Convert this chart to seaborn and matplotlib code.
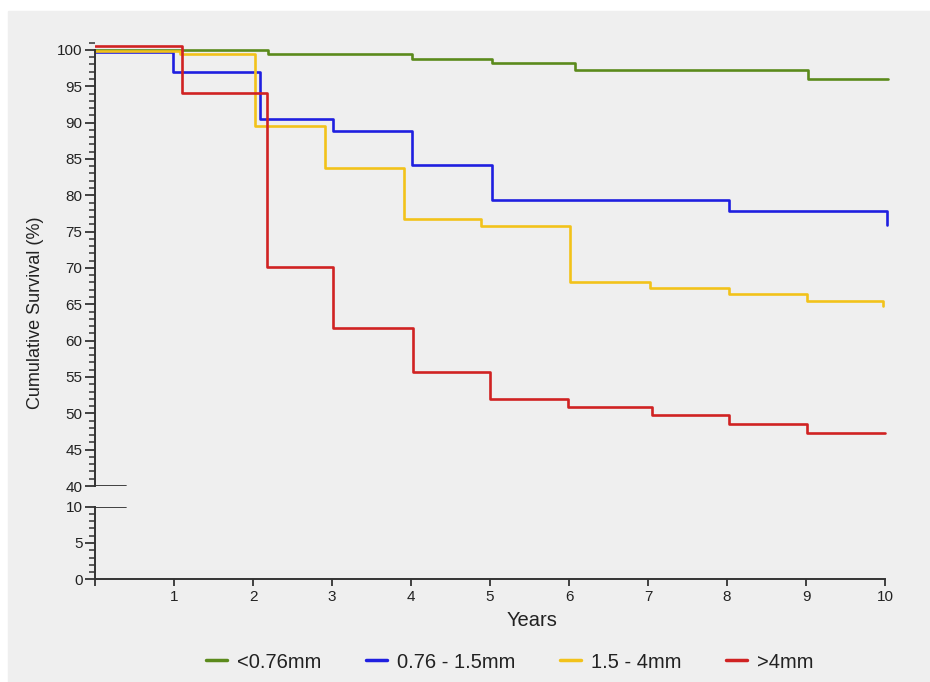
import matplotlib
matplotlib.use('Agg')
import matplotlib.pyplot as plt
from matplotlib.patches import Rectangle
from matplotlib.ticker import MultipleLocator
import pandas as pd
import seaborn as sns

# Kaplan-Meier style survival steps (time in years, survival in %)
green_t = [0, 2.19, 4.01, 5.02, 6.08, 9.03, 10.04]
green_s = [100.0, 99.5, 98.8, 98.2, 97.25, 96.0, 96.0]

blue_t = [0, 0.99, 2.09, 3.01, 4.01, 5.02, 8.03, 10.03]
blue_s = [99.7, 97.0, 90.5, 88.9, 84.2, 79.3, 77.9, 75.9]

yellow_t = [0, 1.08, 2.02, 2.91, 3.91, 4.89, 6.01, 7.03, 8.03, 9.01, 9.97]
yellow_s = [99.9, 99.4, 89.5, 83.7, 76.8, 75.8, 68.0, 67.2, 66.4, 65.5, 64.7]

red_t = [0, 1.10, 2.18, 3.01, 4.03, 5.0, 5.99, 7.05, 8.03, 9.01, 10.0]
red_s = [100.6, 94.1, 70.1, 61.7, 55.7, 52.0, 50.85, 49.7, 48.5, 47.3, 47.3]

groups = ['<0.76mm', '0.76 - 1.5mm', '1.5 - 4mm', '>4mm']
colors = {'<0.76mm': '#5b8a1c', '0.76 - 1.5mm': '#1f1fe0',
          '1.5 - 4mm': '#f2c21a', '>4mm': '#d02222'}

rows = []
for g, ts, ss in zip(groups, [green_t, blue_t, yellow_t, red_t],
                     [green_s, blue_s, yellow_s, red_s]):
    for t, s in zip(ts, ss):
        rows.append({'Years': t, 'Survival': s, 'group': g})
df = pd.DataFrame(rows)

sns.set_theme(style='ticks')
plt.rcParams['font.family'] = ['Liberation Sans', 'DejaVu Sans']
axis_col = '#333333'

W, H = 930, 682
fig = plt.figure(figsize=(W / 100, H / 100), dpi=100)
fig.patch.set_facecolor('white')
fig.patches.append(Rectangle((8 / W, 0), 1, (H - 11) / H, transform=fig.transFigure,
                             color='#efefef', zorder=-10))

left = 95 / W
width = 798 / W
ax_top = fig.add_axes([left, (H - 486) / H, width, 447 / H])
ax_bot = fig.add_axes([left, (H - 579.3) / H, width, 72.6 / H])

sns.lineplot(data=df, x='Years', y='Survival', hue='group', hue_order=groups,
             palette=colors, drawstyle='steps-post', estimator=None, sort=False,
             linewidth=1.9, ax=ax_top)

for ax in (ax_top, ax_bot):
    ax.set_facecolor('none')
    ax.set_xlim(0, 10.1)
    ax.spines['top'].set_visible(False)
    ax.spines['right'].set_visible(False)
    for s in ('left', 'bottom'):
        ax.spines[s].set_color(axis_col)
        ax.spines[s].set_linewidth(1.4)
    ax.yaxis.set_minor_locator(MultipleLocator(1))
    ax.tick_params(axis='y', which='major', length=7, width=1.3, color=axis_col,
                   labelsize=11, pad=2, labelcolor='#222222')
    ax.tick_params(axis='y', which='minor', length=4, width=1.1, color=axis_col)
    ax.set_xlabel('')
    ax.set_ylabel('')

ax_top.set_ylim(40, 101.5)
ax_top.set_yticks(range(40, 101, 5))
ax_top.spines['left'].set_bounds(40, 100)
ax_top.spines['bottom'].set_visible(False)
ax_top.tick_params(axis='x', bottom=False, labelbottom=False)
ax_top.axhline(40, xmin=0, xmax=31 / 798, color=axis_col, lw=1.3)
ax_top.get_legend().remove()

ax_bot.set_ylim(0, 10)
ax_bot.set_yticks([0, 5, 10])
ax_bot.spines['left'].set_bounds(0, 10)
ax_bot.spines['bottom'].set_bounds(0, 10)
ax_bot.set_xticks(range(0, 11))
ax_bot.set_xticklabels([''] + [str(i) for i in range(1, 11)])
ax_bot.tick_params(axis='x', length=5, width=1.3, color=axis_col, labelsize=11,
                   pad=3, labelcolor='#222222')
ax_bot.axhline(10, xmin=0, xmax=31 / 798, color=axis_col, lw=1.3)

fig.text(35 / W, 1 - 313 / H, 'Cumulative Survival (%)', rotation=90,
         ha='center', va='center', fontsize=13, color='#222222')
fig.text(532 / W, 1 - 620 / H, 'Years', ha='center', va='center',
         fontsize=14.5, color='#222222')

handles, labels = ax_top.get_legend_handles_labels()
fig.legend(handles, labels, loc='center', bbox_to_anchor=(510 / W, 1 - 662 / H),
           ncol=4, frameon=False, fontsize=14.5, handlelength=1.05,
           handletextpad=0.5, columnspacing=2.2)
for h in fig.legends[0].legend_handles:
    h.set_linewidth(2.5)
for t in fig.legends[0].get_texts():
    t.set_color('#222222')

fig.savefig('out.png', dpi=100)
